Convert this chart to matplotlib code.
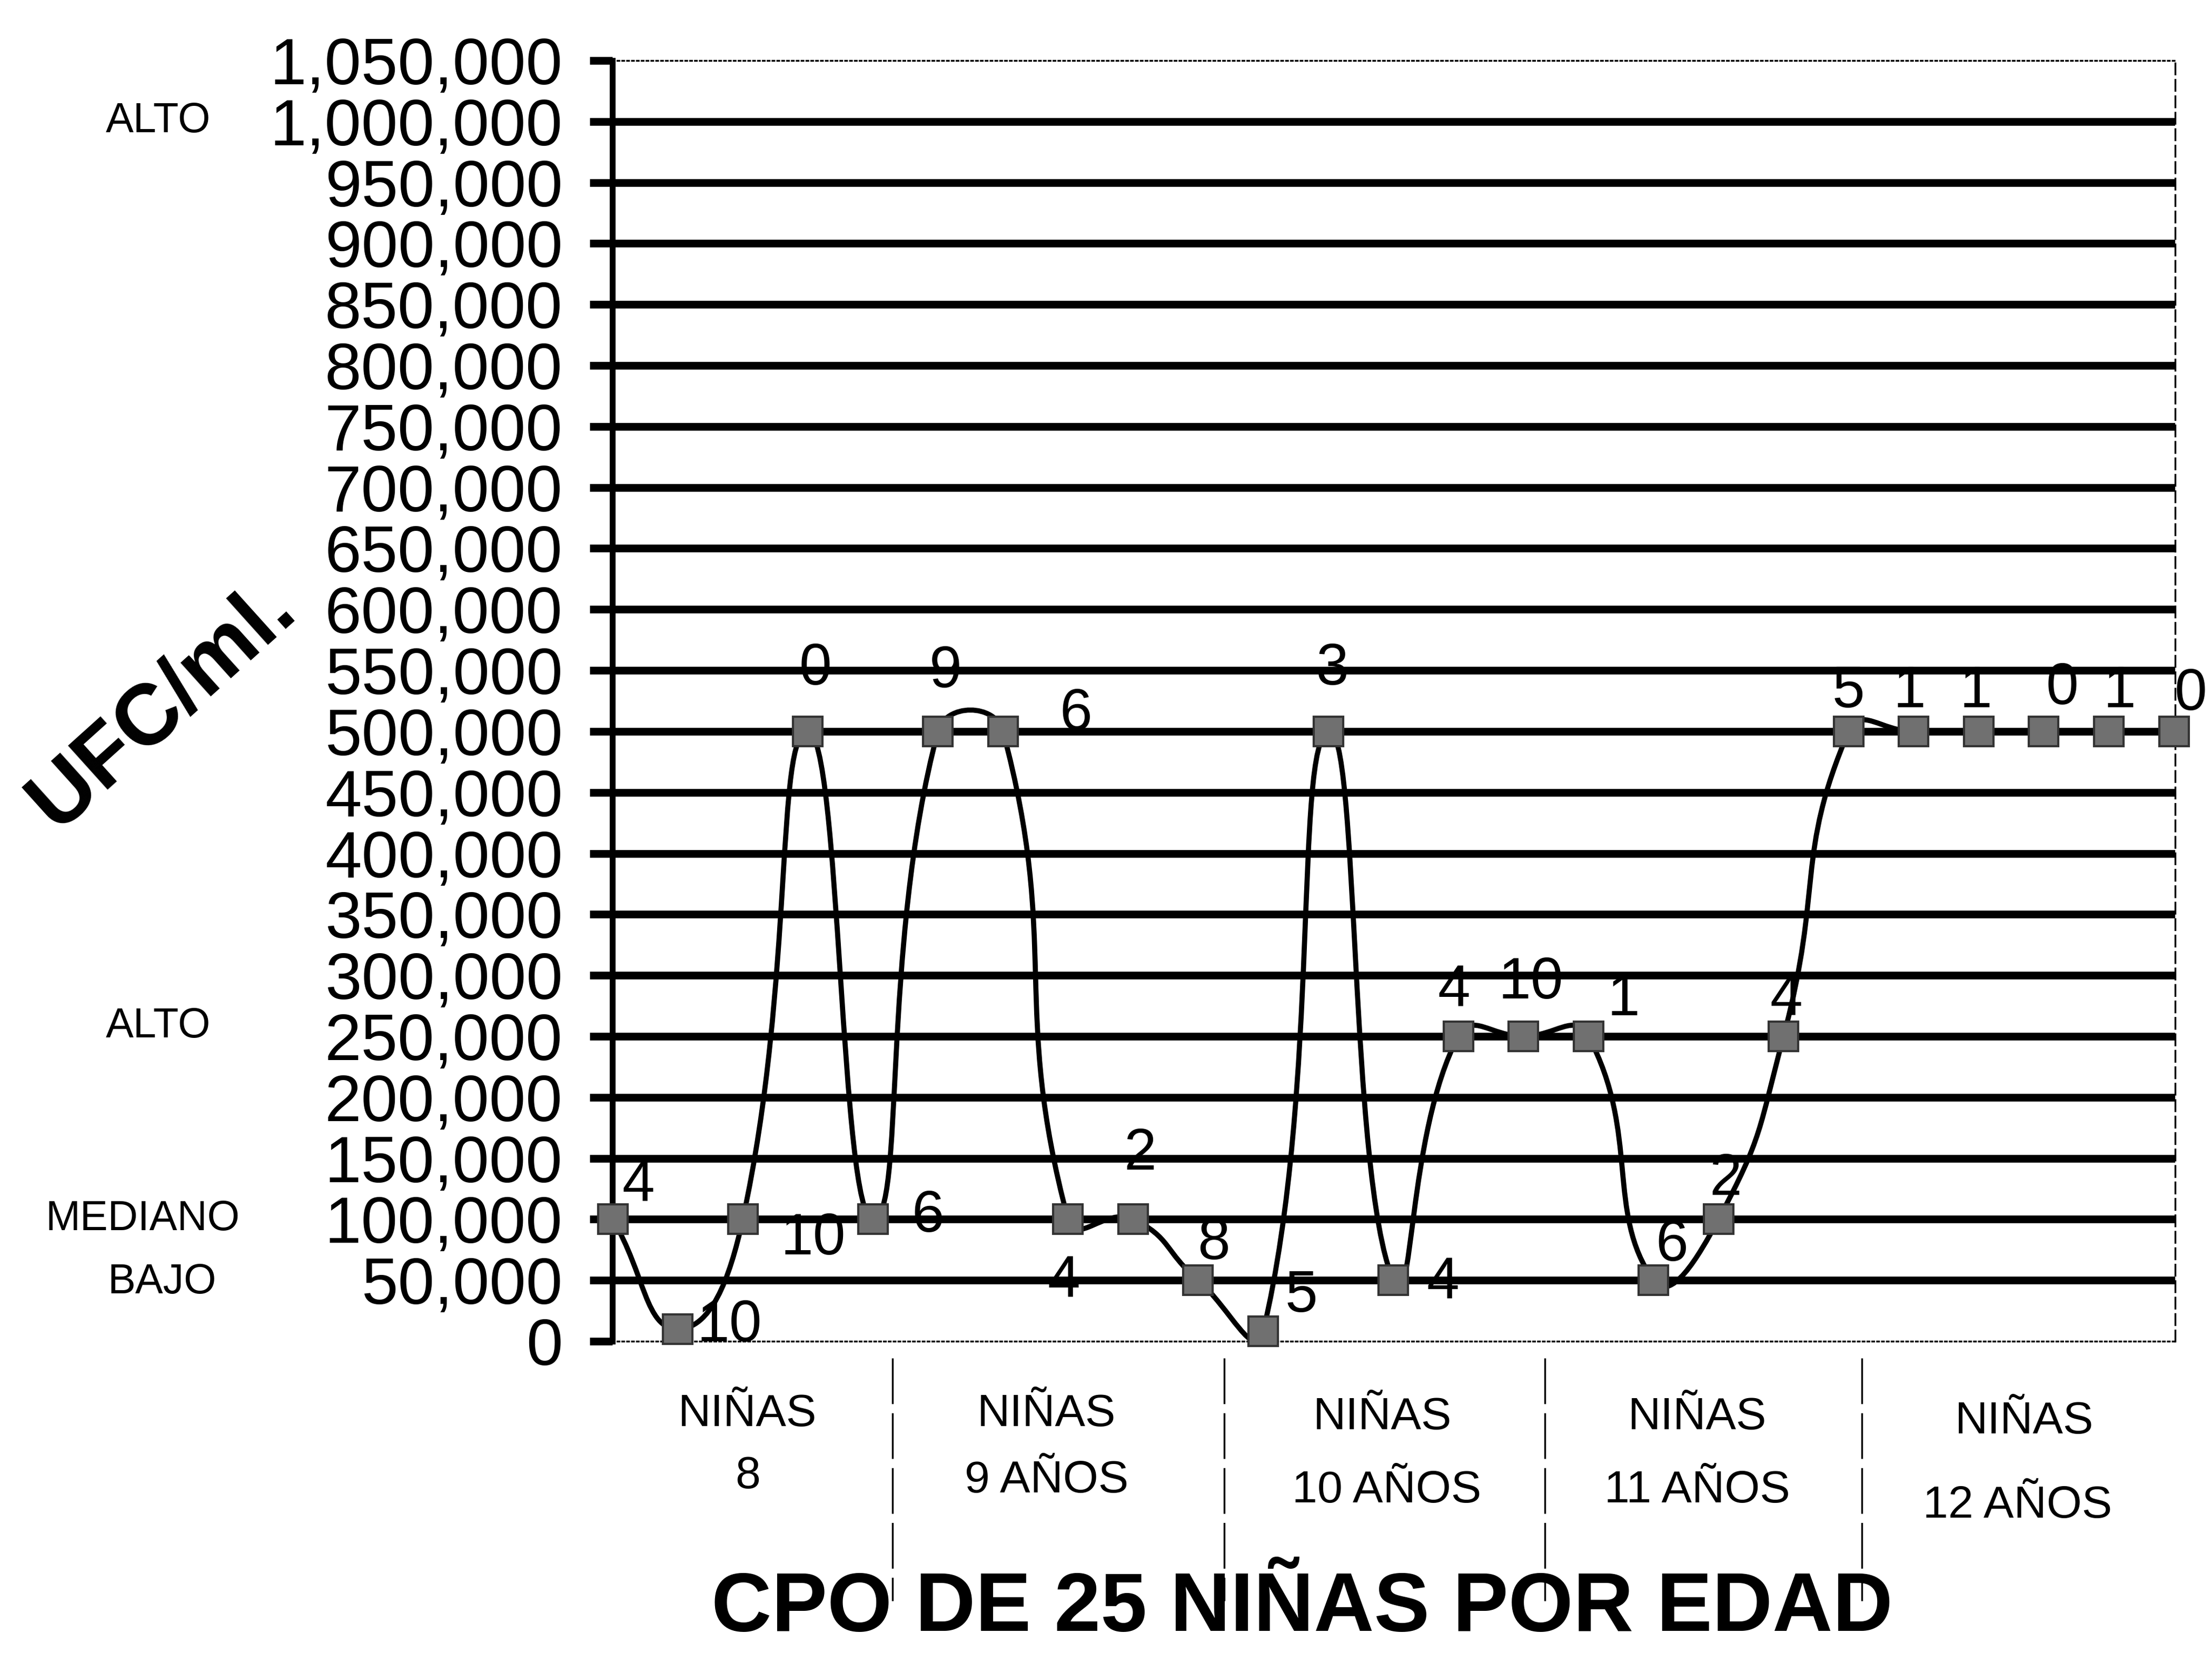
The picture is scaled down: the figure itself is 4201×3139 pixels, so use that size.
import numpy as np
import matplotlib
matplotlib.use('Agg')
import matplotlib.pyplot as plt
from matplotlib.path import Path
from matplotlib.patches import PathPatch
from matplotlib.transforms import blended_transform_factory

# UFC/ml de cada niña (25 niñas, 5 por edad)
ufc = [100000, 10000, 100000, 500000, 100000,
       500000, 500000, 100000, 100000, 50000,
       8000, 500000, 50000, 250000, 250000,
       250000, 50000, 100000, 250000, 500000,
       500000, 500000, 500000, 500000, 500000]
# etiqueta de cada punto
etiquetas = ['4', '10', '10', '0', '6',
             '9', '6', '4', '2', '8',
             '5', '3', '4', '4', '10',
             '1', '6', '2', '4', '5',
             '1', '1', '0', '1', '0']
grupos = [('NIÑAS', '8'), ('NIÑAS', '9 AÑOS'), ('NIÑAS', '10 AÑOS'),
          ('NIÑAS', '11 AÑOS'), ('NIÑAS', '12 AÑOS')]
niveles = [('ALTO', 1000000), ('ALTO', 250000), ('MEDIANO', 100000), ('BAJO', 50000)]
yticks = list(range(0, 1050001, 50000))

# posiciones de las etiquetas (offset en puntos)
offs = [(35, 46), (71, 4), (96, -27), (10, 85), (75, 4),
        (10, 81), (100, 23), (-6, -85), (10, 89), (21, 50),
        (52, 48), (6, 85), (68, -4), (-6, 62), (10, 73),
        (48, 50), (25, 48), (10, 54), (4, 50), (0, 54),
        (-6, 54), (-4, 54), (25, 58), (15, 54), (23, 50)]

W, H = 4201, 3139
fig = plt.figure(figsize=(W / 100, H / 100), dpi=100)
ax = fig.add_axes([1163 / W, 1 - 2547 / H, (4131 - 1163) / W, (2547 - 115) / H])

x = np.arange(len(ufc))
ax.set_xlim(-0.005, 24.02)
ax.set_ylim(0, 1050000)

for s in ['top', 'bottom', 'right']:
    ax.spines[s].set_linewidth(2.5)
ax.spines['top'].set_linestyle(':')
ax.spines['bottom'].set_linestyle(':')
ax.spines['right'].set_linestyle((0, (6, 3)))
ax.spines['left'].set_linewidth(8)

for v in yticks[1:-1]:
    ax.axhline(v, color='black', lw=10.5, zorder=1)

ax.set_xticks([])
ax.set_yticks(yticks)
ax.set_yticklabels(['{:,}'.format(v) for v in yticks])
ax.tick_params(axis='y', direction='out', length=31, width=10.5, pad=37,
               labelsize=90)
for t in ax.get_yticklabels():
    t.set_family(['Liberation Sans', 'DejaVu Sans'])

# linea suavizada (bezier) calculada en pixeles
P = ax.transData.transform(np.column_stack([x, ufc]))
tens = 0.5
verts = [P[0]]
codes = [Path.MOVETO]
n = len(P)
for i in range(n - 1):
    p0 = P[i - 1] if i > 0 else P[i]
    p1, p2 = P[i], P[i + 1]
    p3 = P[i + 2] if i + 2 < n else P[i + 1]
    d01 = np.hypot(*(p1 - p0))
    d12 = np.hypot(*(p2 - p1))
    d23 = np.hypot(*(p3 - p2))
    c1 = p1 + (p2 - p0) * tens * d12 / (d01 + d12)
    c2 = p2 - (p3 - p1) * tens * d12 / (d12 + d23)
    verts += [c1, c2, p2]
    codes += [Path.CURVE4] * 3
verts = ax.transData.inverted().transform(np.array(verts))
ax.add_patch(PathPatch(Path(verts, codes), fill=False, ec='black', lw=7,
                       zorder=3, clip_on=False))

ax.plot(x, ufc, linestyle='none', marker='s', markersize=40,
        mfc='#707070', mec='#333333', mew=3, zorder=4, clip_on=False)

for i in range(n):
    ax.annotate(etiquetas[i], (x[i], ufc[i]), xytext=offs[i],
                textcoords='offset points', ha='center', va='center',
                fontsize=80, family=['Liberation Sans', 'DejaVu Sans'],
                annotation_clip=False, zorder=5)

# niveles a la izquierda
tl = blended_transform_factory(fig.transFigure, ax.transData)
nx = [112, 112, 101, 115]
ny = [0, 8000, 0, -2000]
for (txt, v), xx, dy in zip(niveles, nx, ny):
    ax.text(xx / 1568, v + dy, txt, transform=tl, ha='center', va='center',
            fontsize=57, family=['Liberation Sans', 'DejaVu Sans'])

fig.text(308 / W, 1 - 1340 / H, 'UFC/ml.', rotation=42, rotation_mode='anchor',
         ha='center', va='center', fontsize=118, fontweight='bold',
         family=['Liberation Sans', 'DejaVu Sans'])

# grupos por edad
gx = [(530, 530), (742, 742), (980, 983), (1203, 1203), (1435, 1430)]
gy = [(1003, 1047), (1003, 1050), (1005, 1057), (1005, 1057), (1008, 1068)]
for (l1, l2), (x1, x2), (y1, y2) in zip(grupos, gx, gy):
    fig.text(x1 / 1568, 1 - y1 / 1172, l1, ha='center', va='center', fontsize=62,
             family=['Liberation Sans', 'DejaVu Sans'])
    fig.text(x2 / 1568, 1 - y2 / 1172, l2, ha='center', va='center', fontsize=62,
             family=['Liberation Sans', 'DejaVu Sans'])

tsep = blended_transform_factory(ax.transData, fig.transFigure)
for xs in [4.3, 9.4, 14.33, 19.2]:
    ax.plot([xs, xs], [1 - 963 / 1172, 1 - 1135 / 1172], transform=tsep,
            color='black', lw=2.5, ls=(0, (25, 5)), clip_on=False)

fig.text(923 / 1568, 0.003, 'CPO DE 25 NIÑAS POR EDAD', ha='center', va='bottom',
         fontsize=114, fontweight='bold',
         family=['Liberation Sans', 'DejaVu Sans'])

fig.savefig('out.png', dpi=100, facecolor='white')
